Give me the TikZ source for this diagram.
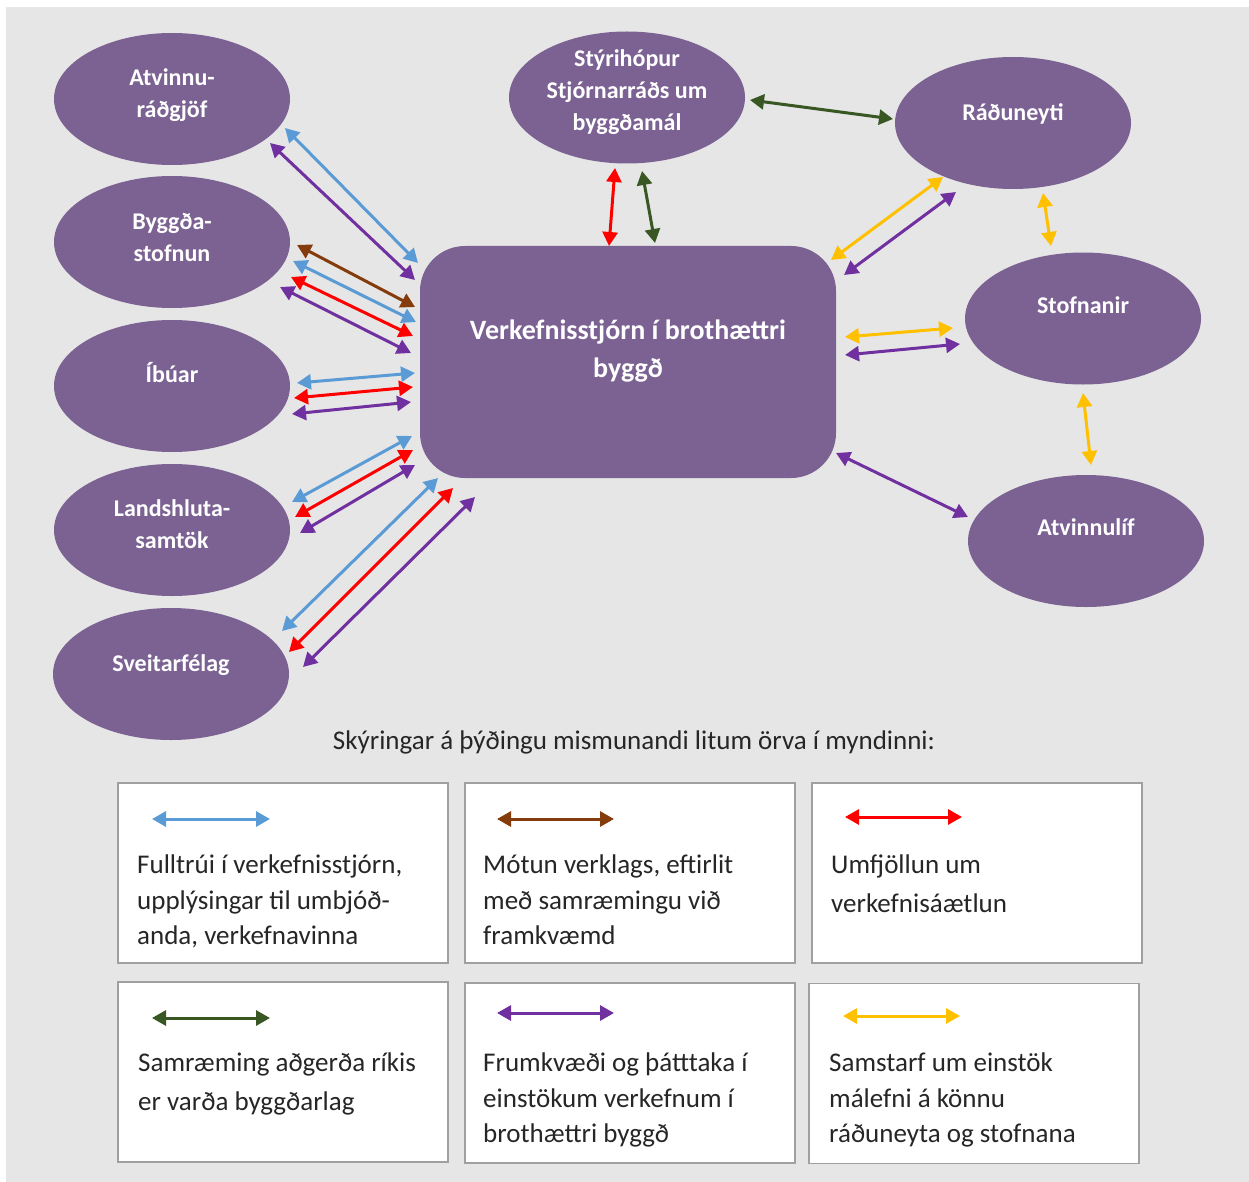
\documentclass[tikz,border=0pt]{standalone}
\usepackage{fontspec}
\setmainfont{Carlito}
\usetikzlibrary{arrows.meta,shapes.geometric}
\definecolor{bgc}{HTML}{E6E6E6}
\definecolor{nodefill}{HTML}{7B6292}
\definecolor{cblue}{HTML}{5B9BD5}
\definecolor{cbrown}{HTML}{843C0C}
\definecolor{cred}{HTML}{FF0000}
\definecolor{cgreen}{HTML}{385723}
\definecolor{cpurple}{HTML}{7030A0}
\definecolor{cyellow}{HTML}{FFC000}
\definecolor{ctext}{HTML}{262626}
\definecolor{cborder}{HTML}{A0A0A0}
\tikzset{
  ell/.style={ellipse, fill=nodefill, minimum width=236pt, minimum height=132pt, inner sep=0pt},
  vkbox/.style={rectangle, rounded corners=45pt, fill=nodefill, minimum width=416pt, minimum height=232pt, inner sep=0pt},
  ltxt/.style={text=white, font=\fontsize{24}{32}\selectfont\bfseries, align=center, inner sep=0pt},
  ctxt/.style={text=white, font=\fontsize{28}{38}\selectfont\bfseries, align=center, inner sep=0pt},
  conn/.style={line width=3pt, {Triangle[length=14pt,width=15pt]}-{Triangle[length=14pt,width=15pt]}},
  arrblue/.style={conn, draw=cblue, fill=cblue},
  arrbrown/.style={conn, draw=cbrown, fill=cbrown},
  arrred/.style={conn, draw=cred, fill=cred},
  arrgreen/.style={conn, draw=cgreen, fill=cgreen},
  arrpurple/.style={conn, draw=cpurple, fill=cpurple},
  arryellow/.style={conn, draw=cyellow, fill=cyellow},
  lbox/.style={rectangle, draw=cborder, line width=1.6pt, fill=white, minimum width=330pt, minimum height=180pt, inner sep=0pt},
  legtxt/.style={text=ctext, font=\fontsize{27}{35.5}\selectfont, align=left, inner sep=0pt, anchor=north west},
  legtxtb/.style={legtxt, font=\fontsize{27}{38.5}\selectfont},
  ttl/.style={text=ctext, font=\fontsize{27}{32}\selectfont, inner sep=0pt}
}
\begin{document}
\begin{tikzpicture}[x=1pt,y=-1pt]
\useasboundingbox (0,0) rectangle (1249,1182);
\fill[bgc] (6,7) rectangle (1249,1182);

% ellipses
\node[ell, label={[ltxt,name=atvT,yshift=4pt]center:{Atvinnu-\\ráðgjöf}}] (atv) at (172,99) {};
\node[ell, label={[ltxt,name=bygT,yshift=5pt]center:{Byggða-\\stofnun}}] (byg) at (172,242) {};
\node[ell, label={[ltxt,name=ibuT,yshift=13pt]center:{Íbúar}}] (ibu) at (172,386) {};
\node[ell, label={[ltxt,name=lanT,yshift=6pt]center:{Landshluta-\\samtök}}] (lan) at (172,530) {};
\node[ell, label={[ltxt,name=sveT,yshift=9pt]center:{Sveitarfélag}}] (sve) at (171,674) {};
\node[ell, label={[ltxt,name=styT,yshift=5pt]center:{Stýrihópur\\Stjórnarráðs um\\byggðamál}}] (sty) at (627,97.5) {};
\node[ell, label={[ltxt,name=radT,yshift=9pt]center:{Ráðuneyti}}] (rad) at (1013,123) {};
\node[ell, label={[ltxt,name=stoT,yshift=13pt]center:{Stofnanir}}] (sto) at (1083,318.5) {};
\node[ell, label={[ltxt,name=atlT,yshift=14pt]center:{Atvinnulíf}}] (atl) at (1086,541) {};

% central box
\node[vkbox, label={[ctxt,name=vkT,yshift=11pt]center:{Verkefnisstjórn í brothættri\\byggð}}] (vk) at (628,362) {};

% connectors
\foreach \n/\sx/\sy/\ex/\ey/\st in {
  1/285/128/418/263/arrblue,
  2/270/143/415/280/arrpurple,
  3/297/245/415/307/arrbrown,
  4/293/261/416/322/arrblue,
  5/291/277/413/336/arrred,
  6/280/287/411/353/arrpurple,
  7/297/383/415/373/arrblue,
  8/294/398/413/387/arrred,
  9/292/414/411/402/arrpurple,
  10/292/502/412/436/arrblue,
  11/295/517/413/450/arrred,
  12/300/533/415/465/arrpurple,
  13/282/631/438/478/arrblue,
  14/289/652/453/488/arrred,
  15/303/667/475/497/arrpurple,
  16/615/168/609/246/arrred,
  17/642/171/655/243/arrgreen,
  18/750/100/893/119/arrgreen,
  19/943/177/831/260/arryellow,
  20/956/192/844/275/arrpurple,
  21/1043/193/1051/246/arryellow,
  22/845/337/953/328/arryellow,
  23/845/355/960/344/arrpurple,
  24/1083/393/1091/465/arryellow,
  25/836/453/968/517/arrpurple}{
  \coordinate (p\n a) at (\sx,\sy);
  \coordinate (p\n b) at (\ex,\ey);
  \draw[\st] (p\n a) -- (p\n b);
}

% legend
\node[ttl] (title) at (634,742) {Skýringar á þýðingu mismunandi litum örva í myndinni:};

\node[lbox] (b1) at (283,873) {};
\node[lbox] (b2) at (630,873) {};
\node[lbox] (b3) at (977,873) {};
\node[lbox] (b4) at (283,1072) {};
\node[lbox] (b5) at (630,1073) {};
\node[lbox] (b6) at (974,1073.5) {};

\coordinate (l1a) at (152,819); \coordinate (l1b) at (270,819);
\coordinate (l2a) at (497,819); \coordinate (l2b) at (614,819);
\coordinate (l3a) at (845,817); \coordinate (l3b) at (962,817);
\coordinate (l4a) at (152,1018); \coordinate (l4b) at (270,1018);
\coordinate (l5a) at (497,1013); \coordinate (l5b) at (614,1013);
\coordinate (l6a) at (843,1016); \coordinate (l6b) at (960,1016);
\draw[arrblue] (l1a) -- (l1b);
\draw[arrbrown] (l2a) -- (l2b);
\draw[arrred] (l3a) -- (l3b);
\draw[arrgreen] (l4a) -- (l4b);
\draw[arrpurple] (l5a) -- (l5b);
\draw[arryellow] (l6a) -- (l6b);

\node[legtxt] (t1) at (137,855) {Fulltrúi í verkefnisstjórn,\\upplýsingar til umbjóð-\\anda, verkefnavinna};
\node[legtxt] (t2) at (483,855) {Mótun verklags, eftirlit\\með samræmingu við\\framkvæmd};
\node[legtxtb] (t3) at (831,855) {Umfjöllun um\\verkefnisáætlun};
\node[legtxtb] (t4) at (138,1053) {Samræming aðgerða ríkis\\er varða byggðarlag};
\node[legtxt] (t5) at (483,1053) {Frumkvæði og þátttaka í\\einstökum verkefnum í\\brothættri byggð};
\node[legtxt] (t6) at (829,1053) {Samstarf um einstök\\málefni á könnu\\ráðuneyta og stofnana};
\end{tikzpicture}
\end{document}
